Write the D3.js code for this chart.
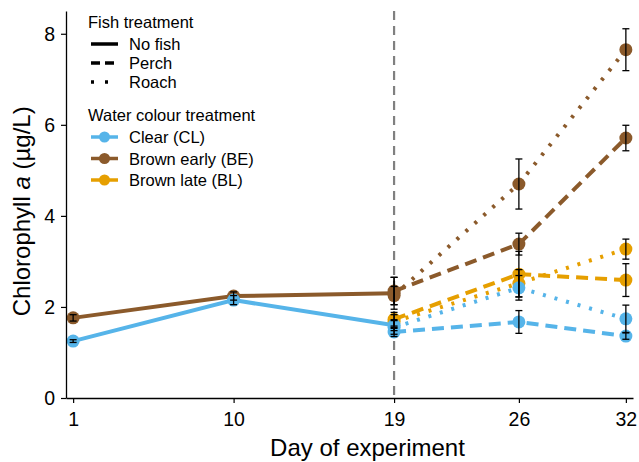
<!DOCTYPE html>
<html>
<head>
<meta charset="utf-8">
<script src="https://cdn.jsdelivr.net/npm/d3@7"></script>
<style>
  body { margin: 0; background: #fff; }
  text { font-family: "Liberation Sans", Arial, sans-serif; }
</style>
</head>
<body>
<div id="chart"></div>
<script>
// days sampled
var noFishDays = [1, 10, 19];
var fishDays = [19, 26, 32];
var dayTicks = [1, 10, 19, 26, 32];
var valueTicks = [0, 2, 4, 6, 8];

// chlorophyll a means (ug/L) and error bars
var clNoFish = [1.25, 2.15, 1.60];
var clNoFishErr = [0.03, 0.10, 0.12];
var beNoFish = [1.76, 2.24, 2.30];
var beNoFishErr = [0.07, 0.09, 0.35];

var clPerch = [1.45, 1.67, 1.36];
var clPerchErr = [0.10, 0.25, 0.07];
var clRoach = [1.55, 2.42, 1.74];
var clRoachErr = [0.15, 0.27, 0.30];
var bePerch = [2.35, 3.38, 5.71];
var bePerchErr = [0.30, 0.24, 0.28];
var beRoach = [2.25, 4.70, 7.65];
var beRoachErr = [0.20, 0.55, 0.46];
var blPerch = [1.73, 2.72, 2.59];
var blPerchErr = [0.15, 0.50, 0.36];
var blRoach = [1.68, 2.52, 3.27];
var blRoachErr = [0.15, 0.30, 0.22];

var fishLabels = ["No fish", "Perch", "Roach"];
var colourKeys = ["CL", "BE", "BL"];
var colourLabels = ["Clear (CL)", "Brown early (BE)", "Brown late (BL)"];

(function() {
  var width = 639, height = 462;
  var margin = {top: 11, right: 6, bottom: 64, left: 66};

  var colour = d3.scaleOrdinal().domain(colourKeys)
    .range(["#56B4E9", "#8B5A2B", "#E69F00"]);
  var dash = d3.scaleOrdinal().domain(fishLabels)
    .range(["none", "12,7", "3,9"]);

  // drawing order: brown early, brown late, clear on top
  var series = [
    {colour: "BE", fish: "No fish", days: noFishDays, v: beNoFish, e: beNoFishErr},
    {colour: "BE", fish: "Perch", days: fishDays, v: bePerch, e: bePerchErr},
    {colour: "BE", fish: "Roach", days: fishDays, v: beRoach, e: beRoachErr},
    {colour: "BL", fish: "Perch", days: fishDays, v: blPerch, e: blPerchErr},
    {colour: "BL", fish: "Roach", days: fishDays, v: blRoach, e: blRoachErr},
    {colour: "CL", fish: "No fish", days: noFishDays, v: clNoFish, e: clNoFishErr},
    {colour: "CL", fish: "Perch", days: fishDays, v: clPerch, e: clPerchErr},
    {colour: "CL", fish: "Roach", days: fishDays, v: clRoach, e: clRoachErr}
  ];
  series.forEach(function(s) {
    s.points = s.days.map(function(d, i) { return {day: d, value: s.v[i], err: s.e[i]}; });
  });

  var x = d3.scaleLinear().domain([0.6, 32.4]).range([margin.left, width - margin.right]);
  var y = d3.scaleLinear().domain([0, 8.5]).range([height - margin.bottom, margin.top]);

  var svg = d3.select("#chart").append("svg")
    .attr("width", width).attr("height", height);

  // vertical line at fish introduction
  svg.append("line")
    .attr("x1", x(19)).attr("x2", x(19))
    .attr("y1", y(8.5)).attr("y2", y(0))
    .attr("stroke", "#808080").attr("stroke-width", 2.2)
    .attr("stroke-dasharray", "9,6");

  var line = d3.line().x(d => x(d.day)).y(d => y(d.value));

  svg.append("g").selectAll("path")
    .data(series)
    .join("path")
      .attr("d", d => line(d.points))
      .attr("fill", "none")
      .attr("stroke", d => colour(d.colour))
      .attr("stroke-width", 4)
      .attr("stroke-dasharray", d => dash(d.fish));

  svg.append("g").selectAll("g")
    .data(series)
    .join("g")
      .attr("fill", d => colour(d.colour))
    .selectAll("circle")
    .data(d => d.points)
    .join("circle")
      .attr("cx", d => x(d.day))
      .attr("cy", d => y(d.value))
      .attr("r", 6.5);

  // error bars
  var allPts = series.flatMap(s => s.points);
  var eb = svg.append("g").attr("stroke", "#000").attr("stroke-width", 1.3);
  allPts.forEach(function(p) {
    var cx = x(p.day), t = y(p.value + p.err), b = y(p.value - p.err);
    eb.append("line").attr("x1", cx).attr("x2", cx).attr("y1", t).attr("y2", b);
    eb.append("line").attr("x1", cx - 3.5).attr("x2", cx + 3.5).attr("y1", t).attr("y2", t);
    eb.append("line").attr("x1", cx - 3.5).attr("x2", cx + 3.5).attr("y1", b).attr("y2", b);
  });

  // axes
  var gx = svg.append("g")
    .attr("transform", `translate(0,${height - margin.bottom})`)
    .call(d3.axisBottom(x).tickValues(dayTicks).tickSize(5).tickSizeOuter(0));
  var gy = svg.append("g")
    .attr("transform", `translate(${margin.left},0)`)
    .call(d3.axisLeft(y).tickValues(valueTicks).tickSize(5).tickSizeOuter(0));
  [gx, gy].forEach(function(g) {
    g.select(".domain").attr("stroke-width", 1.3);
    g.selectAll(".tick line").attr("stroke-width", 1.2);
    g.selectAll("text").attr("font-size", 19.5).attr("fill", "#000")
      .attr("font-family", '"Liberation Sans", Arial, sans-serif');
  });
  gx.selectAll("text").attr("dy", "1.05em");
  gy.selectAll("text").attr("dx", "-0.15em");

  svg.append("text")
    .attr("x", (x(1) + x(32)) / 2 + 18).attr("y", 456)
    .attr("text-anchor", "middle").attr("font-size", 24)
    .text("Day of experiment");

  var yl = svg.append("text")
    .attr("transform", `translate(30,${y(4.1)}) rotate(-90)`)
    .attr("text-anchor", "middle").attr("font-size", 24);
  yl.append("tspan").text("Chlorophyll ");
  yl.append("tspan").attr("font-style", "italic").text("a");
  yl.append("tspan").text(" (µg/L)");

  // legend
  var lg = svg.append("g").attr("font-size", 16.5);
  lg.append("text").attr("x", 88).attr("y", 28).text("Fish treatment");
  fishLabels.forEach(function(f, i) {
    var yy = 44 + i * 19;
    lg.append("line").attr("x1", 91).attr("x2", 118).attr("y1", yy).attr("y2", yy)
      .attr("stroke", "#000").attr("stroke-width", 3.5)
      .attr("stroke-dasharray", i == 0 ? "none" : (i == 1 ? "9,5" : "3,11"));
    lg.append("text").attr("x", 129).attr("y", yy + 6).text(f);
  });
  lg.append("text").attr("x", 88).attr("y", 121).text("Water colour treatment");
  colourKeys.forEach(function(c, i) {
    var yy = 137 + i * 21.5;
    lg.append("line").attr("x1", 91).attr("x2", 118).attr("y1", yy).attr("y2", yy)
      .attr("stroke", colour(c)).attr("stroke-width", 3.5);
    lg.append("circle").attr("cx", 104.5).attr("cy", yy).attr("r", 5.5).attr("fill", colour(c));
    lg.append("text").attr("x", 129).attr("y", yy + 6).text(colourLabels[i]);
  });
})();
</script>
</body>
</html>
